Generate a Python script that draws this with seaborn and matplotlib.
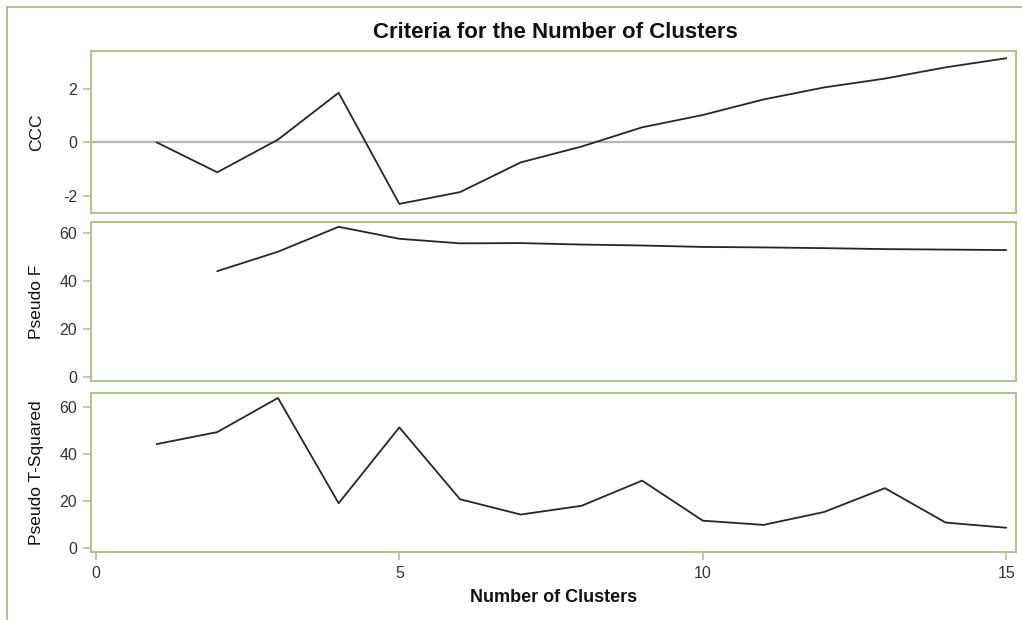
import matplotlib
matplotlib.use("Agg")
import matplotlib.pyplot as plt
from matplotlib.patches import Rectangle
import seaborn as sns
import pandas as pd

# Cluster-count criteria
clusters = [1, 2, 3, 4, 5, 6, 7, 8, 9, 10, 11, 12, 13, 14, 15]
ccc = [0.0, -1.12, 0.1, 1.85, -2.3, -1.86, -0.75, -0.16, 0.56, 1.02, 1.6, 2.05, 2.38, 2.8, 3.14]
pseudo_f = [None, 44.0, 52.1, 62.5, 57.5, 55.6, 55.7, 55.1, 54.7, 54.1, 53.9, 53.6, 53.2, 53.0, 52.8]
pseudo_t2 = [44.1, 49.2, 63.7, 19.0, 51.2, 20.7, 14.2, 17.9, 28.6, 11.6, 9.8, 15.3, 25.4, 10.8, 8.6]

x_ticks = [0, 5, 10, 15]
ccc_ticks = [-2, 0, 2]
stat_ticks = [0, 20, 40, 60]

title = "Criteria for the Number of Clusters"
x_label = "Number of Clusters"
y_labels = ["CCC", "Pseudo F", "Pseudo T-Squared"]

sns.set_theme(style="white")
plt.rcParams["font.family"] = ["Liberation Sans", "DejaVu Sans"]
plt.rcParams["axes.unicode_minus"] = False

FRAME = "#adc593"
LINE = "#262626"
TXT = "#333333"

W, H = 1022, 620
fig = plt.figure(figsize=(W / 100, H / 100), dpi=100)


def fig_rect(left, top, right, bottom):
    return [left / W, 1 - bottom / H, (right - left) / W, (bottom - top) / H]


# outer graph frame
fig.patches.append(Rectangle((7 / W, -0.1), 1.2, 1 - 7 / H + 0.1,
                             transform=fig.transFigure, fill=False,
                             edgecolor=FRAME, linewidth=1.5))

panels = [
    (51, 213, ccc, ccc_ticks, (-2.64, 3.41)),
    (222, 381, pseudo_f, stat_ticks, (-1.8, 64.5)),
    (393, 552, pseudo_t2, stat_ticks, (-1.7, 65.8)),
]

axes = []
for i, (top, bottom, vals, yt, ylim) in enumerate(panels):
    ax = fig.add_axes(fig_rect(91, top, 1016, bottom))
    df = pd.DataFrame({"k": clusters, "v": pd.to_numeric(pd.Series(vals), errors="coerce")})
    if i == 0:
        ax.axhline(0, color="#b5b5b5", linewidth=1.6, zorder=1)
    sns.lineplot(data=df.dropna(), x="k", y="v", ax=ax, color=LINE,
                 linewidth=1.3, zorder=3)
    ax.set_xlim(-0.08, 15.16)
    ax.set_ylim(*ylim)
    ax.set_yticks(yt)
    ax.set_xticks(x_ticks)
    for sp in ax.spines.values():
        sp.set_color(FRAME)
        sp.set_linewidth(1.5)
    ax.tick_params(axis="both", which="both", length=6, width=1.2, color=FRAME,
                   labelsize=11.5, labelcolor=TXT, pad=4,
                   left=True, bottom=(i == 2), labelbottom=(i == 2))
    ax.set_xlabel("")
    ax.set_ylabel(y_labels[i], fontsize=12.5, color="#111111")
    ax.yaxis.set_label_coords((44 - 91) / 925, 0.5)
    axes.append(ax)

axes[2].set_xlabel(x_label, fontsize=13, fontweight="bold", color="#111111",
                   labelpad=6)
fig.text(555 / W, 1 - 33 / H, title, ha="center", va="center",
         fontsize=16, fontweight="bold", color="#111111")

fig.savefig("out.png", dpi=100)
